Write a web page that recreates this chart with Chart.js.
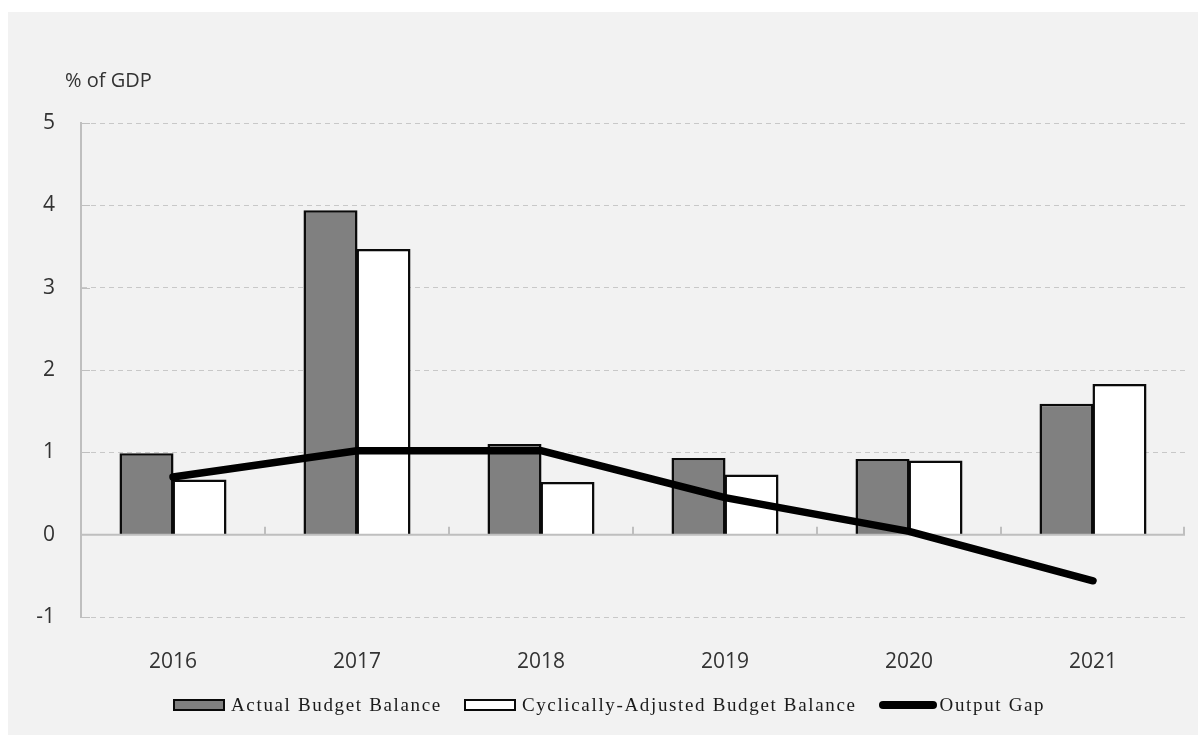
<!DOCTYPE html>
<html>
<head>
<meta charset="utf-8">
<script src="https://cdn.jsdelivr.net/npm/chart.js@4.4.0/dist/chart.umd.min.js"></script>
<style>
  html, body { margin: 0; padding: 0; background: #fff; overflow: hidden; }
  #frame { position: absolute; left: 8px; top: 12px; width: 1190px; height: 723px; background: #f2f2f2; }
  #chart { position: absolute; left: 0; top: 0; }
  #legend {
    position: absolute; left: 173px; top: 694px; height: 22px;
    display: flex; align-items: center;
    font-family: "Liberation Serif", "Times New Roman", serif;
    font-size: 19px; line-height: 22px; letter-spacing: 1.65px; color: #1a1a1a;
  }
  #legend .item { display: flex; align-items: center; margin-right: 22px; }
  #legend .box { width: 52px; height: 12px; box-sizing: border-box; border: 2px solid; margin-right: 6px; }
  #legend .line { width: 58px; height: 8px; border-radius: 4px; margin-right: 3px; }
</style>
</head>
<body>
<div id="frame"></div>
<canvas id="chart" width="1198" height="735"></canvas>
<div id="legend"></div>
<script>
const years = ['2016', '2017', '2018', '2019', '2020', '2021'];
const actualBalance = [0.99, 3.94, 1.10, 0.93, 0.92, 1.59];
const cyclicalBalance = [0.67, 3.47, 0.64, 0.73, 0.90, 1.83];
const outputGap = [0.70, 1.02, 1.02, 0.45, 0.04, -0.56];
const yMin = -1, yMax = 5, yStep = 1;
const axisTitle = '% of GDP';

const axisColor = '#bfbfbf';
const gridColor = '#c8c8c8';
const textColor = '#333333';

Chart.defaults.font.family = '"Open Sans", sans-serif';
Chart.defaults.color = textColor;

// zero axis with category ticks, inner y ticks and the unit label
const axisDecor = {
  id: 'axisDecor',
  beforeDatasetsDraw(chart) {
    const { ctx, chartArea: a, scales: { y } } = chart;
    ctx.save();
    ctx.strokeStyle = axisColor;
    ctx.lineWidth = 1;
    ctx.beginPath();
    for (let v = yMin; v <= yMax; v += yStep) {
      if (v === 0) continue;
      const py = Math.round(y.getPixelForValue(v)) + 0.5;
      ctx.moveTo(a.left, py);
      ctx.lineTo(a.left + 9, py);
    }
    ctx.stroke();
    ctx.restore();
  },
  afterDatasetDraw(chart, args) {
    if (args.index !== 0) return;
    const { ctx, chartArea: a, scales: { x, y } } = chart;
    const y0 = y.getPixelForValue(0);
    ctx.save();
    ctx.strokeStyle = axisColor;
    ctx.lineWidth = 2;
    ctx.beginPath();
    ctx.moveTo(a.left, y0);
    ctx.lineTo(a.right, y0);
    for (let i = 1; i <= years.length; i++) {
      const bx = i < years.length
        ? (x.getPixelForValue(i - 1) + x.getPixelForValue(i)) / 2
        : a.right - 1;
      ctx.moveTo(bx, y0);
      ctx.lineTo(bx, y0 - 8);
    }
    ctx.stroke();
    ctx.restore();
  },
  afterDraw(chart) {
    const { ctx } = chart;
    ctx.save();
    ctx.font = '20px "Open Sans", sans-serif';
    ctx.fillStyle = textColor;
    ctx.textBaseline = 'middle';
    ctx.fillText(axisTitle, 65, 81);
    ctx.restore();
  }
};

// legend built as html from the datasets
const htmlLegend = {
  id: 'htmlLegend',
  afterUpdate(chart) {
    const box = document.getElementById('legend');
    box.innerHTML = '';
    chart.data.datasets.forEach(ds => {
      const item = document.createElement('span');
      item.className = 'item';
      const mark = document.createElement('span');
      if (ds.type === 'line') {
        mark.className = 'line';
        mark.style.background = ds.borderColor;
      } else {
        mark.className = 'box';
        mark.style.background = ds.backgroundColor;
        mark.style.borderColor = ds.borderColor;
      }
      const label = document.createElement('span');
      label.textContent = ds.label;
      item.appendChild(mark);
      item.appendChild(label);
      box.appendChild(item);
    });
  }
};

new Chart(document.getElementById('chart'), {
  data: {
    labels: years,
    datasets: [
      {
        type: 'bar',
        label: 'Actual Budget Balance',
        data: actualBalance,
        backgroundColor: '#808080',
        borderColor: '#0a0a0a',
        borderWidth: 2.5,
        order: 1
      },
      {
        type: 'bar',
        label: 'Cyclically-Adjusted Budget Balance',
        data: cyclicalBalance,
        backgroundColor: '#ffffff',
        borderColor: '#0a0a0a',
        borderWidth: 2.5,
        order: 1
      },
      {
        type: 'line',
        label: 'Output Gap',
        data: outputGap,
        borderColor: '#000000',
        backgroundColor: '#000000',
        borderWidth: 7.5,
        borderCapStyle: 'round',
        borderJoinStyle: 'round',
        pointRadius: 0,
        tension: 0,
        order: 0
      }
    ]
  },
  options: {
    responsive: false,
    devicePixelRatio: 1,
    animation: false,
    layout: { padding: { top: 123, right: 13, bottom: 0, left: 0 } },
    datasets: {
      bar: { categoryPercentage: 0.576, barPercentage: 1.02 }
    },
    plugins: {
      legend: { display: false },
      title: { display: false },
      tooltip: { enabled: false }
    },
    scales: {
      x: {
        grid: { display: false },
        border: { display: false },
        ticks: { font: { size: 21 }, padding: 24, color: textColor },
        afterFit(s) { s.height = 118; }
      },
      y: {
        min: yMin,
        max: yMax,
        ticks: { stepSize: yStep, font: { size: 21 }, padding: 26, color: textColor },
        grid: {
          drawTicks: false,
          lineWidth: 1,
          color: c => (c.tick && c.tick.value === 0 ? 'rgba(0,0,0,0)' : gridColor)
        },
        border: { display: true, color: axisColor, width: 2, dash: [5, 4] },
        afterFit(s) { s.width = 81; }
      }
    }
  },
  plugins: [axisDecor, htmlLegend]
});
</script>
</body>
</html>
